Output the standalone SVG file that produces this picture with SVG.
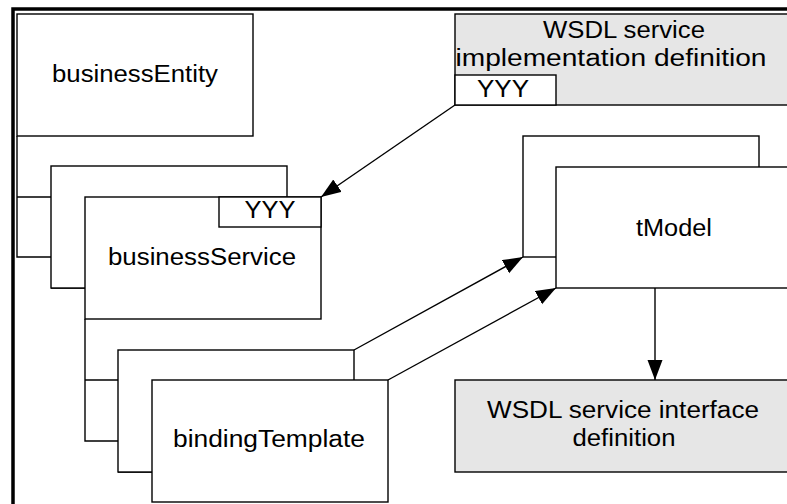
<svg xmlns="http://www.w3.org/2000/svg" width="787" height="504" viewBox="0 0 787 504">
<style>
.b{fill:#fff;stroke:#000;stroke-width:1.4}
.g{fill:#e6e6e6;stroke:#000;stroke-width:1.4}
.l{fill:none;stroke:#000;stroke-width:1.4}
.t{font-family:"Liberation Sans",Arial,sans-serif;font-size:23px;fill:#000;text-anchor:middle}
</style>
<defs>
<marker id="ah" markerUnits="userSpaceOnUse" markerWidth="22" markerHeight="16" refX="20" refY="7.5" orient="auto">
<path d="M0,0 L20,7.5 L0,15 z" fill="#000"/>
</marker>
</defs>
<rect width="787" height="504" fill="#fff"/>
<path d="M13,504 V9 H787" fill="none" stroke="#000" stroke-width="3.5"/>
<g id="wsdl-impl">
<rect class="g" x="455" y="14" width="345" height="91"/>
<text class="t" x="624" y="38" textLength="162" lengthAdjust="spacingAndGlyphs">WSDL service</text>
<text class="t" x="611" y="66" textLength="311" lengthAdjust="spacingAndGlyphs">implementation definition</text>
<rect class="b" x="455" y="75" width="101" height="30"/>
<text class="t" x="503" y="97" textLength="52" lengthAdjust="spacingAndGlyphs">YYY</text>
</g>
<g id="businessEntity">
<rect class="b" x="17" y="14" width="236" height="122"/>
<text class="t" x="135" y="82" textLength="166" lengthAdjust="spacingAndGlyphs">businessEntity</text>
</g>
<g id="connectors">
<path class="l" d="M17,136 V257 H85 M17,197 H51 M51,288 H85"/>
<path class="l" d="M85,319 V441 H152 M85,380 H118 M118,472 H152"/>
<path class="l" d="M455,105 L321,197" marker-end="url(#ah)"/>
<path class="l" d="M354,350 L523,257" marker-end="url(#ah)"/>
<path class="l" d="M388,380 L556,288" marker-end="url(#ah)"/>
<path class="l" d="M655,288 V380" marker-end="url(#ah)"/>
</g>
<g id="businessService">
<rect class="b" x="51" y="166" width="236" height="122"/>
<rect class="b" x="85" y="197" width="236" height="122"/>
<rect class="b" x="219" y="197" width="102" height="30"/>
<text class="t" x="270" y="218" textLength="51" lengthAdjust="spacingAndGlyphs">YYY</text>
<text class="t" x="202" y="265" textLength="188" lengthAdjust="spacingAndGlyphs">businessService</text>
</g>
<g id="bindingTemplate">
<rect class="b" x="118" y="350" width="236" height="122"/>
<rect class="b" x="152" y="380" width="236" height="122"/>
<text class="t" x="269" y="447" textLength="192" lengthAdjust="spacingAndGlyphs">bindingTemplate</text>
</g>
<g id="tModel">
<rect class="b" x="523" y="136" width="236" height="121"/>
<rect class="b" x="556" y="167" width="245" height="121"/>
<text class="t" x="674" y="236" textLength="76" lengthAdjust="spacingAndGlyphs">tModel</text>
</g>
<g id="wsdl-interface">
<rect class="g" x="455" y="380" width="345" height="92"/>
<text class="t" x="623" y="418" textLength="272" lengthAdjust="spacingAndGlyphs">WSDL service interface</text>
<text class="t" x="624" y="446" textLength="103" lengthAdjust="spacingAndGlyphs">definition</text>
</g>
</svg>
